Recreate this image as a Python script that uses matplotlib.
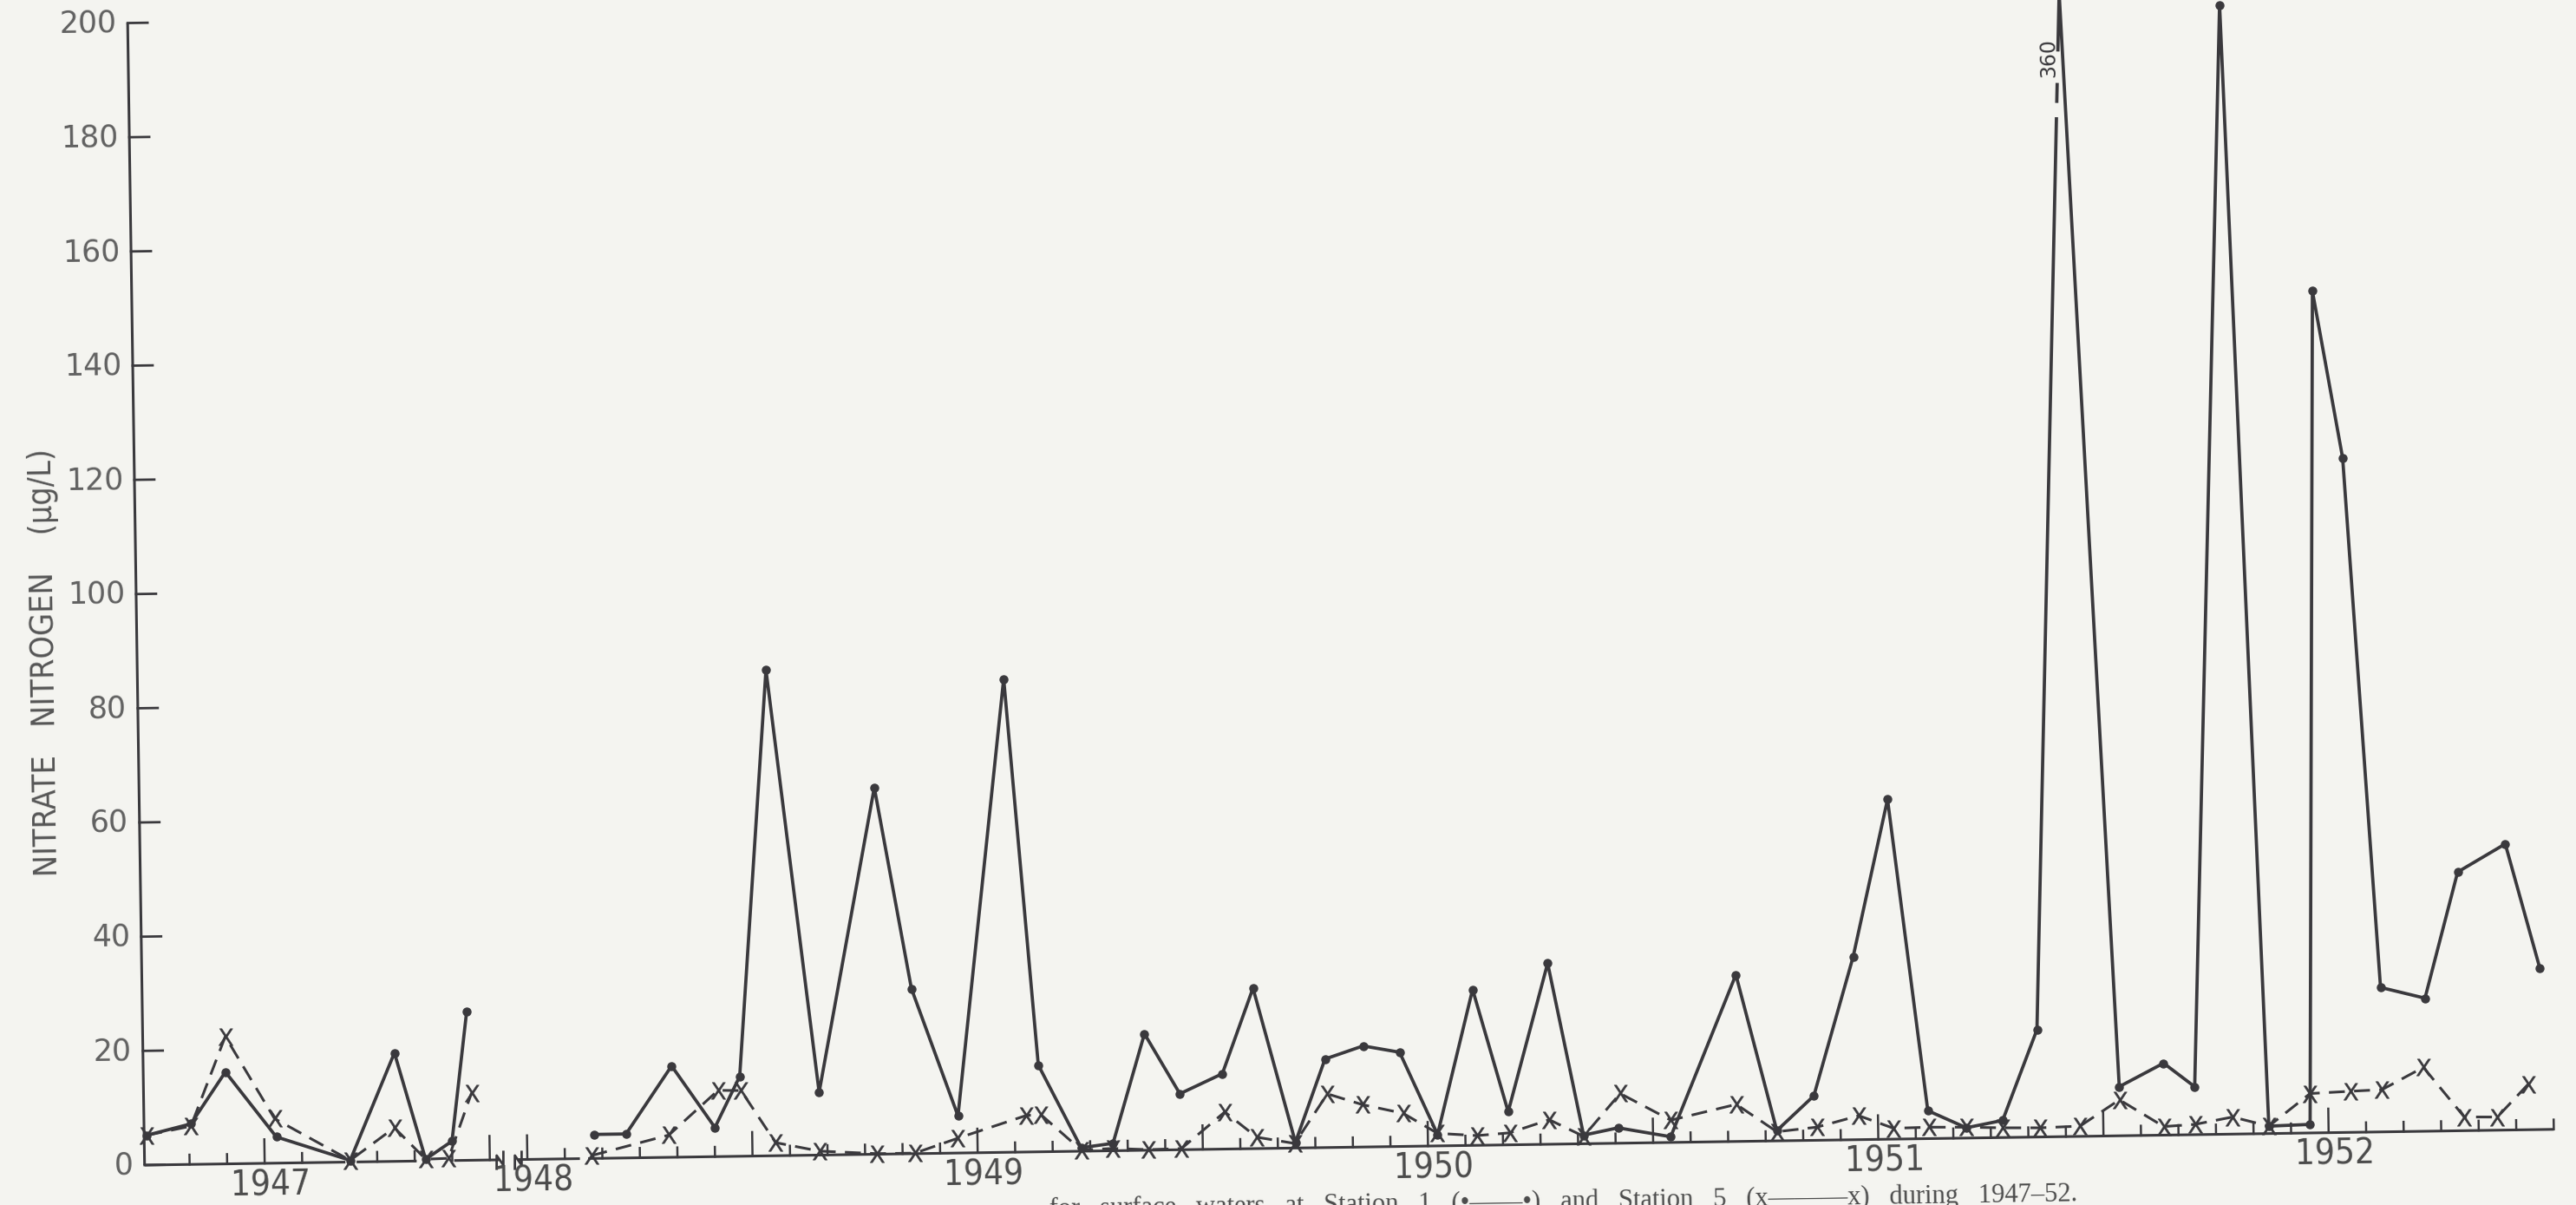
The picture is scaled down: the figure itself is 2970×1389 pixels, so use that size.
import numpy as np
import matplotlib
matplotlib.use("Agg")
import matplotlib.pyplot as plt
from matplotlib.path import Path
from matplotlib.transforms import Affine2D

# ---------------------------------------------------------------------------
# Nitrate nitrogen (µg/L) in surface water, Station 1 and Station 5, 1947-52.
# Sampling time is given in months after 1 January 1947.
# ---------------------------------------------------------------------------
s1_month = [2.86, 4.05, 4.99, 6.32, 8.28, 9.50, 10.29, 11.00, 11.44,
            19.79, 20.64, 21.88, 23.01, 23.69, 24.55, 25.80, 27.39, 28.30, 29.49,
            30.88, 31.65, 32.76, 33.61, 34.49, 35.41, 36.55, 37.40, 38.47, 39.29,
            40.31, 41.28, 42.26, 43.25, 44.15, 45.26, 46.15, 47.07, 48.47, 50.27,
            51.30, 52.30, 53.40, 54.38, 55.33, 56.35, 57.32, 58.27, 59.27, 60.44,
            61.63, 62.45, 63.54, 64.41, 65.51, 65.90, 66.64, 67.44, 68.62, 69.54,
            70.82, 71.69]
s1_nitrate = [5.2, 7.1, 16.1, 4.6, 0.3, 19.0, 0.3, 3.4, 26.0,
              4.2, 4.2, 16.0, 5.1, 14.0, 85.1, 11.0, 64.2, 28.9, 6.5,
              82.9, 15.2, 0.6, 1.3, 20.4, 9.8, 13.2, 28.1, 1.0, 15.5,
              17.7, 16.5, 2.0, 27.3, 5.8, 31.7, 1.5, 2.7, 1.0, 29.2,
              1.8, 7.8, 32.0, 59.5, 4.9, 1.8, 3.0, 18.8, 360.0, 8.6,
              12.6, 8.4, 197.7, 1.3, 1.5, 147.4, 118.1, 25.3, 23.3, 45.3,
              50.1, 28.3]

s5_month = [2.86, 4.05, 5.00, 6.28, 8.28, 9.47, 10.29, 10.90, 11.54,
            19.71, 21.78, 23.11, 23.72, 24.62, 25.78, 27.32, 28.33, 29.48, 31.31, 31.70,
            32.76, 33.61, 34.55, 35.43, 36.60, 37.44, 38.45, 39.34, 40.28, 41.35,
            42.26, 43.31, 44.18, 45.24, 46.15, 47.14, 48.48, 50.23, 51.30, 52.37,
            53.49, 54.41, 55.36, 56.35, 57.31, 58.32, 59.38, 60.44, 61.61, 62.44,
            63.45, 64.41, 65.52, 66.61, 67.44, 68.55, 69.62, 70.50, 71.34]
s5_nitrate = [5.2, 6.7, 22.3, 7.8, 0.3, 5.9, 0.3, 0.4, 11.8,
              0.5, 3.9, 11.6, 11.5, 2.3, 0.7, 0.1, 0.1, 2.6, 6.4, 6.5,
              0.2, 0.4, 0.1, 0.2, 6.5, 2.0, 0.8, 9.4, 7.4, 5.8,
              2.2, 1.7, 2.1, 4.3, 1.3, 8.7, 3.9, 6.5, 1.6, 2.3,
              4.2, 1.9, 2.0, 1.9, 1.7, 1.6, 1.8, 6.3, 1.5, 1.8,
              3.0, 1.3, 6.9, 7.2, 7.4, 11.2, 2.4, 2.3, 8.0]

year_labels = ["1947", "1948", "1949", "1950", "1951", "1952"]
year_label_month = [6, 18, 30, 42, 54, 66]          # labels sit on the July ticks
y_ticks = [0, 20, 40, 60, 80, 100, 120, 140, 160, 180, 200]
y_tick_labels = [str(v) for v in y_ticks]
y_title = "NITRATE   NITROGEN    (µg/L)"
caption_words = ["for", "surface", "waters", "at", "Station", "1", "(\u2022\u2014\u2014\u2022)",
                 "and", "Station", "5", "(x\u2014\u2014\u2014x)", "during", "1947\u201352."]

# drawn pieces of the time axis and its monthly ticks
axis_pieces = [(2.8, 8.15), (8.45, 10.05), (11.05, 12.25), (17.75, 19.4), (19.62, 72.0)]
month_ticks = [4, 5, 6, 7, 9, 10, 11, 12] + list(range(18, 73))

# ---------------------------------------------------------------------------
# Scales: most of the first half of 1948 is cut out of the time axis, and
# values above 200 are squeezed so the off-scale peak stays at the top edge.
# ---------------------------------------------------------------------------
GAP_LO, GAP_HI, GAP_KEEP = 12.25, 17.75, 0.5
SQ = GAP_KEEP / (GAP_HI - GAP_LO)


def fwd_x(t):
    t = np.asarray(t, dtype=float)
    mid = GAP_LO + (t - GAP_LO) * SQ
    return np.where(t <= GAP_LO, t, np.where(t >= GAP_HI, t - (GAP_HI - GAP_LO - GAP_KEEP), mid))


def inv_x(d):
    d = np.asarray(d, dtype=float)
    mid = GAP_LO + (d - GAP_LO) / SQ
    return np.where(d <= GAP_LO, d,
                    np.where(d >= GAP_LO + GAP_KEEP, d + (GAP_HI - GAP_LO - GAP_KEEP), mid))


Y_TOP, Y_SQUEEZE = 200.0, 0.002


def fwd_y(v):
    v = np.asarray(v, dtype=float)
    return np.where(v <= Y_TOP, v, Y_TOP + (v - Y_TOP) * Y_SQUEEZE)


def inv_y(u):
    u = np.asarray(u, dtype=float)
    return np.where(u <= Y_TOP, u, Y_TOP + (u - Y_TOP) / Y_SQUEEZE)


def runs(months, values, max_gap=4.0):
    """Split a series wherever sampling stopped for a long while."""
    m = np.asarray(months)
    v = np.asarray(values)
    cuts = np.where(np.diff(m) > max_gap)[0] + 1
    return list(zip(np.split(m, cuts), np.split(v, cuts)))


# ---------------------------------------------------------------------------
BG = "#f4f4f0"
INK = "#3a393d"
GREY = "#606060"
TILT = 0.85          # the sheet sits slightly rotated

W, H = 2970, 1389
fig = plt.figure(figsize=(W / 100, H / 100), dpi=100, facecolor=BG)
ax = fig.add_axes([166.7 / W, 46 / H, 2778 / W, 1316.6 / H])
ax.set_axis_off()
ax.set_xscale("function", functions=(fwd_x, inv_x))
ax.set_yscale("function", functions=(fwd_y, inv_y))
ax.set_xlim(2.8, 72.0)
ax.set_ylim(0, 200)

ox, oy = ax.transData.transform((2.8, 0.0))
T = ax.transData + Affine2D().rotate_deg_around(ox, oy, TILT)
common = dict(transform=T, clip_on=False)

# --- axes ---
X0 = 2.8
ax.plot([X0, X0], [0, 200], color=INK, lw=2.2, solid_capstyle="butt", **common)
for yt in y_ticks:
    ax.plot([X0, X0 + 0.53], [yt, yt], color=INK, lw=2.0, **common)
for yt, lab in zip(y_ticks, y_tick_labels):
    ax.text(X0 - 0.30, yt, lab, ha="right", va="center", fontsize=25, color=GREY,
            family=["DejaVu Sans"], rotation=TILT, rotation_mode="anchor", **common)

for a, b in axis_pieces:
    ax.plot([a, b], [0, 0], color=INK, lw=2.2, solid_capstyle="butt", **common)
for m in month_ticks:
    h = 4.2 if m % 6 == 0 and m != 72 else 1.7
    ax.plot([m, m], [0, h], color=INK, lw=1.8, **common)

zig = Path([(-0.35, -1.0), (-0.35, 0.5), (0.35, -0.5), (0.35, 1.0)])
ax.plot([GAP_LO, GAP_HI], [0, 0], ls="none", marker=zig, ms=16, mew=2.0,
        mec=INK, mfc="none", **common)

for yr, m in zip(year_labels, year_label_month):
    ax.text(m + 0.15, -3.9, yr, ha="center", va="center", fontsize=29, color="#4a4a4a",
            family=["DejaVu Sans"], fontstretch="condensed",
            rotation=TILT, rotation_mode="anchor", **common)

ax.text(0.36, 88.3, y_title, ha="center", va="center", fontsize=27, color="#555555",
        family=["DejaVu Sans"], fontstretch="condensed",
        rotation=90 + TILT, rotation_mode="anchor", **common)

# --- Station 5 (dashed, x) ---
for mm, vv in runs(s5_month, s5_nitrate):
    ax.plot(mm, vv, color=INK, lw=2.2, ls=(0, (6, 3.5)), marker=r"$\mathsf{X}$",
            ms=14, mew=0.3, mec=INK, mfc=INK, zorder=3, **common)

# --- Station 1 (solid, dots) ---
for mm, vv in runs(s1_month, s1_nitrate):
    ax.plot(mm, vv, color=INK, lw=2.7, marker="o", ms=6.5, mfc=INK, mec=INK,
            solid_joinstyle="round", zorder=4, **common)

# off-scale peak: broken rise line and its value
ip = int(np.argmax(s1_nitrate))
rise_t = [s1_month[ip - 1], s1_month[ip]]
rise_v = [s1_nitrate[ip - 1], float(fwd_y(s1_nitrate[ip]))]
for lo, hi in [(178.5, 181.0), (184.5, 190.0)]:
    t_lo, t_hi = np.interp([lo, hi], rise_v, rise_t)
    ax.plot([t_lo, t_hi], [lo, hi], color=BG, lw=4.5, solid_capstyle="butt", zorder=5, **common)
t_lab = float(np.interp(189.0, rise_v, rise_t)) - 0.25
ax.text(t_lab, 189.0, f"{s1_nitrate[ip]:.0f}", ha="center", va="center", fontsize=17,
        color=INK, rotation=90 + TILT, rotation_mode="anchor", zorder=6, **common)

# figure caption, cut by the lower edge of the sheet
ax.text(59.28, -11.3, "   ".join(caption_words), ha="right", va="baseline", fontsize=22,
        color="#4a4a4a", family=["Liberation Serif", "DejaVu Serif"], rotation=TILT,
        rotation_mode="anchor", **common)

fig.savefig("out.png", dpi=100, facecolor=BG)
